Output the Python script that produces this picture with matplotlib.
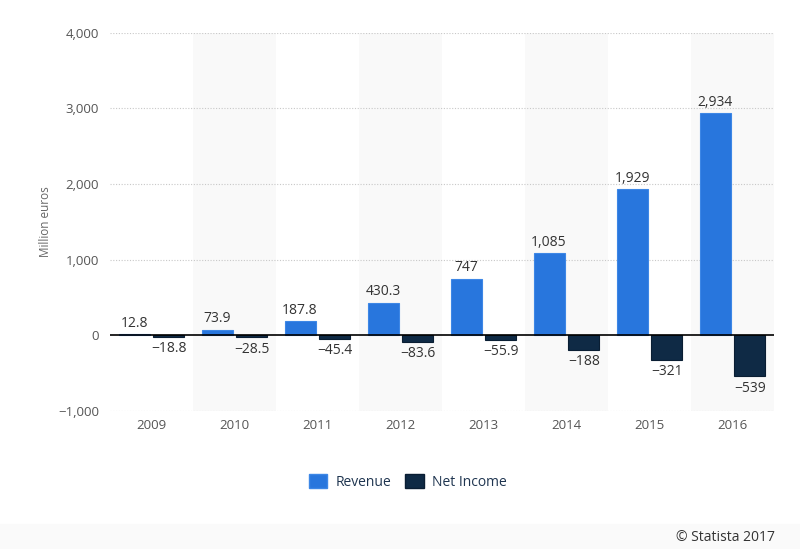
import matplotlib.pyplot as plt
from matplotlib.patches import Patch, Rectangle
import numpy as np

years = ["2009", "2010", "2011", "2012", "2013", "2014", "2015", "2016"]
revenue = [12.8, 73.9, 187.8, 430.3, 747, 1085, 1929, 2934]
net_income = [-18.8, -28.5, -45.4, -83.6, -55.9, -188, -321, -539]
revenue_labels = ["12.8", "73.9", "187.8", "430.3", "747", "1,085", "1,929", "2,934"]
income_labels = ["\u221218.8", "\u221228.5", "\u221245.4", "\u221283.6", "\u221255.9",
                 "\u2212188", "\u2212321", "\u2212539"]
yticks = [-1000, 0, 1000, 2000, 3000, 4000]
ytick_labels = ["\u22121,000", "0", "1,000", "2,000", "3,000", "4,000"]

plt.rcParams['font.family'] = ['Open Sans', 'DejaVu Sans']

blue = '#2876dd'
navy = '#0f2a45'

fig = plt.figure(figsize=(8, 5.49), dpi=100)
ax = fig.add_axes([0.1375, 0.2514, 0.83, 0.689])

x = np.arange(len(years))
w = 0.375
off = 0.21

# alternating background bands
for i in x:
    if i % 2 == 1:
        ax.axvspan(i - 0.5, i + 0.5, color='#f9f9f9', zorder=0, lw=0)

for t in [-1000, 1000, 2000, 3000, 4000]:
    ax.axhline(t, color='#c8c8c8', lw=0.8, ls=(0, (1, 1.5)), zorder=1)

ax.bar(x - off, revenue, w, color=blue, edgecolor='#3d87e6', lw=0.8, zorder=2)
ax.bar(x + off, net_income, w, color=navy, edgecolor='#0a1e33', lw=0.8, zorder=2)
ax.axhline(0, color='black', lw=1.2, zorder=3)

for i in x:
    ax.text(i - off, revenue[i] + 45, revenue_labels[i], ha='center', va='bottom',
            fontsize=10, color='#333333', zorder=4)
    ax.text(i + off, net_income[i] - 60, income_labels[i], ha='center', va='top',
            fontsize=10, color='#333333', zorder=4)

ax.set_xlim(-0.5, len(years) - 0.5)
ax.set_ylim(-1000, 4000)
ax.set_xticks(x)
ax.set_xticklabels(years, fontsize=9.5, color='#555555')
ax.set_yticks(yticks)
ax.set_yticklabels(ytick_labels, fontsize=9.5, color='#555555')
ax.tick_params(length=0, pad=8)
ax.tick_params(axis='x', pad=6)
for s in ax.spines.values():
    s.set_visible(False)
ax.set_ylabel("Million euros", fontsize=8.5, color='#666666', labelpad=4)

handles = [Patch(facecolor=blue, edgecolor='#3d87e6', label='Revenue'),
           Patch(facecolor=navy, edgecolor='#0a1e33', label='Net Income')]
fig.legend(handles=handles, loc='center', bbox_to_anchor=(0.51, 0.122), ncol=2,
           frameon=False, fontsize=10, labelcolor='#1f3550', handlelength=1.3,
           handleheight=1.1, columnspacing=1.0, handletextpad=0.6)

# footer strip
fig.patches.append(Rectangle((0, 0), 1, 0.045, transform=fig.transFigure,
                             color='#fafafa', zorder=0))
fig.text(0.969, 0.021, "\u00a9 Statista 2017", ha='right', va='center',
         fontsize=10, color='#333333')

fig.savefig('out.png', dpi=100)
